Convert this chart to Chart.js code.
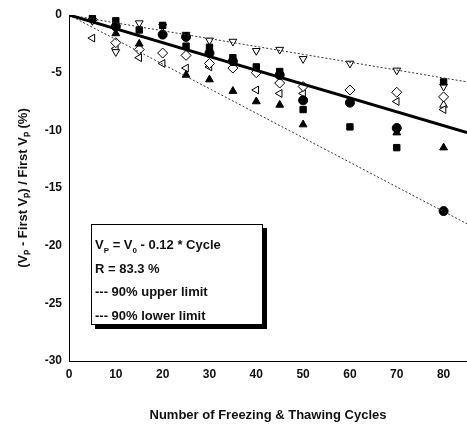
<!DOCTYPE html>
<html>
<head>
<meta charset="utf-8">
<script src="https://cdn.jsdelivr.net/npm/chart.js@4/dist/chart.umd.min.js"></script>
<style>
  html,body{margin:0;padding:0;background:#fff;}
  #wrap{position:relative;width:467px;height:427px;}
  #legendBox{position:absolute;left:91px;top:224px;width:172px;height:101px;background:#fff;border:1px solid #000;box-shadow:4px 4px 0 #000;font-family:"Liberation Sans",Arial,sans-serif;font-weight:bold;font-size:13px;color:#111;box-sizing:border-box;padding:8px 0 0 3px;line-height:23.5px;}
  #legendBox sub{font-size:8px;vertical-align:-4px;line-height:0;}
</style>
</head>
<body>
<div id="wrap">
<canvas id="c" width="467" height="427"></canvas>
<div id="legendBox">
  <div>V<sub>P</sub> = V<sub>0</sub> - 0.12 * Cycle</div>
  <div>R = 83.3 %</div>
  <div>--- 90% upper limit</div>
  <div>--- 90% lower limit</div>
</div>
</div>
<script>
// Cycles at which measurements were taken
const cycles = [5, 10, 15, 20, 25, 30, 35, 40, 45, 50, 60, 70, 80];
// Series values (% change of pulse velocity); null = no point
const seriesSquareFilled   = [-0.3, -0.5, -1.3, -0.9, -2.7, -2.8, -3.7, -4.5, -4.9, -8.2, -9.7, -11.5, -5.8];
const seriesCircleFilled   = [null, -1.0, null, -1.7, -1.9, -3.3, -4.0, null, -5.2, -7.4, -7.6, -9.8, -17.0];
const seriesTriangleFilled = [null, -1.6, -2.5, null, -5.2, -5.6, -6.6, -7.5, -7.8, -9.5, null, -10.2, -11.5];
const seriesDiamondOpen    = [-0.4, -2.4, -3.0, -3.3, -3.5, -4.2, -4.6, -5.0, -5.9, -6.2, -6.5, -6.7, -7.1];
const seriesTriDownOpen    = [-0.5, -3.2, -0.7, -1.0, -1.7, -2.2, -2.3, -3.1, -3.0, -3.8, -4.2, -4.8, -6.2];
const seriesTriLeftOpen    = [-2.0, -2.9, -3.7, -4.2, -4.6, -4.5, null, -6.5, -6.8, -6.8, null, -7.5, -8.2];
const seriesTriUpOpen      = [null, null, null, null, null, null, null, null, null, null, null, null, -7.8];
// Regression and 90% limits (endpoints)
const lineX      = [0, 85];
const regression = [0, -10.2];
const upperLimit = [0, -5.8];
const lowerLimit = [0, -18.1];
// Axis ticks
const xTicks = [0, 10, 20, 30, 40, 50, 60, 70, 80];
const yTicks = [0, -5, -10, -15, -20, -25, -30];

function pts(xs, ys){ const o=[]; xs.forEach((x,i)=>{ if(ys[i]!==null) o.push({x:x,y:ys[i]}); }); return o; }

function marker(label, data, style, filled, rot){
  return {type:'scatter', label:label, data:pts(cycles,data), pointStyle:style, pointRotation:rot||0,
    pointRadius: style==='rectRot'?5:4.5, borderWidth:1, borderColor:'#000',
    backgroundColor: filled?'#000':'#fff', order:1};
}
function line(label, ys, width, dash, color){
  return {type:'scatter', label:label, data:pts(lineX, ys), showLine:true, pointRadius:0,
    borderColor:color||'#000', borderWidth:width, borderDash:dash, order:0};
}

const fontTick = {family:'"Liberation Sans", Arial, sans-serif', size:12, weight:'bold'};
const fontTitle = {family:'"Liberation Sans", Arial, sans-serif', size:13, weight:'bold'};

new Chart(document.getElementById('c'), {
  type:'scatter',
  data:{datasets:[
    line('Regression', regression, 3, []),
    line('90% upper limit', upperLimit, 1, [2,2], '#333'),
    line('90% lower limit', lowerLimit, 1, [2,2], '#333'),
    marker('A', seriesSquareFilled, 'rect', true),
    marker('B', seriesCircleFilled, 'circle', true),
    marker('C', seriesTriangleFilled, 'triangle', true),
    marker('D', seriesDiamondOpen, 'rectRot', false),
    marker('E', seriesTriDownOpen, 'triangle', false, 180),
    marker('F', seriesTriLeftOpen, 'triangle', false, 270),
    marker('G', seriesTriUpOpen, 'triangle', false)
  ]},
  options:{
    responsive:false, animation:false,
    layout:{autoPadding:false, padding:{top:15,right:0,left:0,bottom:0}},
    plugins:{legend:{display:false}, tooltip:{enabled:false}},
    scales:{
      x:{type:'linear', min:0, max:85,
        afterBuildTicks:(s)=>{ s.ticks = xTicks.map(v=>({value:v})); },
        afterFit:(s)=>{ s.height = 66; },
        grid:{display:false, drawTicks:true, tickLength:4, tickColor:'#000'},
        border:{display:true, color:'#000', width:1},
        ticks:{color:'#111', font:fontTick, padding:2, maxRotation:0},
        title:{display:true, text:'Number of Freezing & Thawing Cycles', color:'#111', font:fontTitle, padding:{top:8}}
      },
      y:{type:'linear', min:-30, max:0,
        afterBuildTicks:(s)=>{ s.ticks = yTicks.map(v=>({value:v})); },
        afterFit:(s)=>{ s.width = 69; },
        grid:{display:false, drawTicks:true, tickLength:4, tickColor:'#000'},
        border:{display:true, color:'#000', width:1},
        ticks:{color:'#111', font:fontTick, padding:3},
        title:{display:true, text:'(Vₚ - First Vₚ) / First Vₚ (%)', color:'#111', font:fontTitle, padding:{top:16,bottom:0}}
      }
    }
  }
});
</script>
</body>
</html>
